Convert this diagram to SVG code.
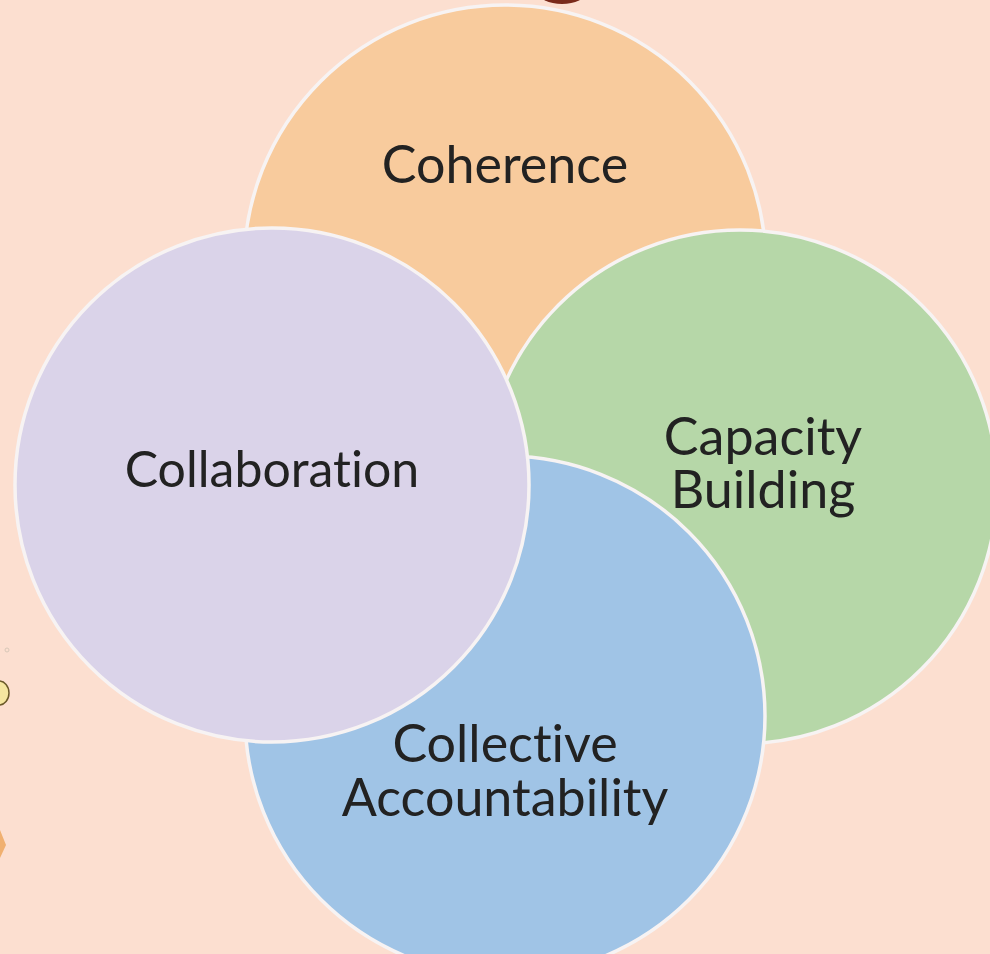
<svg xmlns="http://www.w3.org/2000/svg" width="990" height="954" viewBox="0 0 990 954">
<style>
.c{stroke:#f7f3f3;stroke-width:3.5}
.t{font-family:Lato,"Open Sans",sans-serif;font-size:52px;fill:#222;text-anchor:middle;font-variant-ligatures:none}
</style>
<rect width="990" height="954" fill="#fcdfd0"/>
<ellipse cx="562" cy="-8" rx="24" ry="12" fill="#7a2a1a"/>
<circle cx="7" cy="650" r="2" fill="none" stroke="#d8c8b8" stroke-width="1"/>
<ellipse cx="-1" cy="693" rx="10" ry="12" fill="#f5e6a0" stroke="#6b5a2a" stroke-width="1.5"/>
<path d="M0 830 L6 845 L0 858 Z" fill="#f0b070"/>
<g id="coherence"><circle class="c" cx="505" cy="266" r="261" fill="#f8cb9d"/><text class="t" x="505" y="183">Coherence</text></g>
<g id="capacity"><circle class="c" cx="740" cy="487" r="257" fill="#b6d7a8"/><text class="t" x="763" y="455">Capacity</text><text class="t" x="763" y="508">Building</text></g>
<g id="accountability"><circle class="c" cx="505" cy="716" r="260" fill="#a0c4e6"/><text class="t" x="505" y="762">Collective</text><text class="t" x="505" y="816">Accountability</text></g>
<g id="collaboration"><circle class="c" cx="272" cy="485" r="257" fill="#dad3e9"/><text class="t" x="272" y="487" style="font-size:50px">Collaboration</text></g>
<g id="connectors"/>
</svg>
